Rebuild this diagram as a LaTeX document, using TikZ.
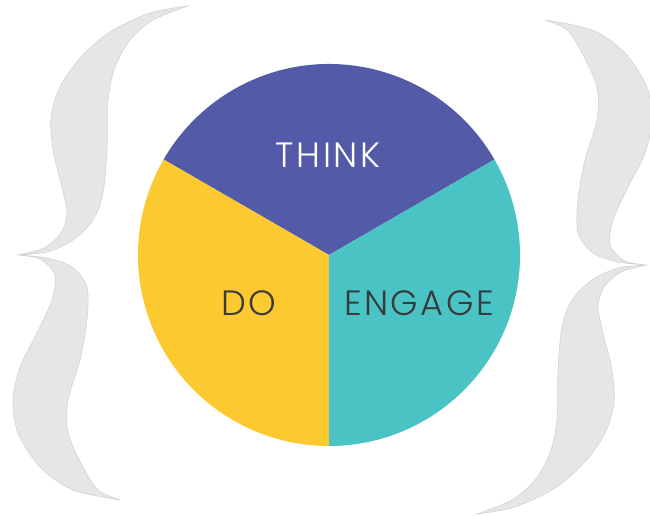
\documentclass[tikz,border=0pt]{standalone}
\usepackage{fontspec}
\setmainfont{Poppins}
\newfontfamily\tagfont{Poppins Light}[LetterSpace=7]
\usepackage{tikz}

\definecolor{thinkblue}{HTML}{535AA8}
\definecolor{doyellow}{HTML}{FDC931}
\definecolor{engageteal}{HTML}{4AC3C5}
\definecolor{bracegray}{HTML}{E6E6E6}
\definecolor{braceedge}{HTML}{D0D0D0}
\definecolor{labeldark}{HTML}{3A3A3C}

% one curly brace, middle tip on the left
\newcommand{\braceoutline}{%
  plot[smooth] coordinates {(188,-6) (150,-13) (110,-32) (80,-58) (60,-87) (51,-117) (53,-150) (62,-187) (67,-213) (61,-233) (44,-248) (18,-255)}
  -- plot[smooth] coordinates {(18,-255) (40,-259) (55,-275) (52,-300) (37,-333) (20,-367) (13,-400) (18,-433) (40,-467) (73,-490) (120,-500)}
  -- plot[smooth] coordinates {(120,-500) (98,-490) (83,-467) (68,-433) (68,-400) (80,-360) (87,-320) (87,-287) (72,-267) (47,-258) (18,-255)}
  -- plot[smooth] coordinates {(18,-255) (47,-252) (73,-240) (93,-220) (103,-193) (107,-150) (108,-100) (115,-67) (130,-40) (153,-20) (188,-6)}
  -- cycle}

\begin{document}
\begin{tikzpicture}[x=0.02cm, y=0.02cm]
\tikzstyle{every node}+=[inner sep=0pt]
\tikzstyle{brace}=[fill=bracegray, draw=braceedge, line width=0.3pt]
\tikzstyle{tag}=[font=\tagfont\fontsize{20}{24}\selectfont]
\useasboundingbox (0,0) rectangle (650,-516);
% braces
\draw [brace] \braceoutline;
\begin{scope}[shift={(665,-520)}, rotate=180]
\draw [brace] \braceoutline;
\end{scope}
% circle
\coordinate (c) at (329,-255);
\fill [thinkblue] (c) -- ++(30:191) arc (30:150:191) -- cycle;
\fill [doyellow] (c) -- ++(150:191) arc (150:270:191) -- cycle;
\fill [engageteal] (c) -- ++(270:191) arc (270:390:191) -- cycle;
\node [tag, text=white] (think) at (328,-155) {THINK};
\node [tag, text=labeldark] (do) at (249,-303) {DO};
\node [tag, text=labeldark] (engage) at (419,-303) {ENGAGE};
\end{tikzpicture}
\end{document}
